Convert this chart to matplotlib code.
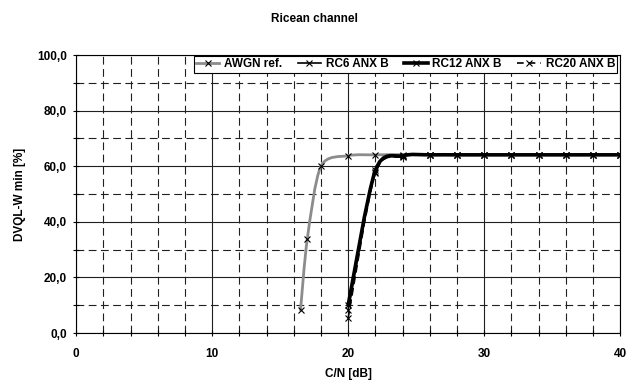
import numpy as np
import matplotlib.pyplot as plt
from matplotlib.path import Path
from matplotlib.patches import PathPatch
from matplotlib.lines import Line2D
from matplotlib.ticker import MultipleLocator, FuncFormatter

plt.rcParams['font.family'] = ['Liberation Sans', 'DejaVu Sans']
plt.rcParams['font.weight'] = 'bold'

# C/N [dB] and DVQL-W min [%] for each curve
awgn_x = [16.5, 17, 18, 20, 22, 24]
awgn_y = [8.3, 34.0, 60.0, 63.8, 64.1, 64.2]

rc_x = [20, 22, 24, 26, 28, 30, 32, 34, 36, 38, 40]
rc6_y = [8.3, 58.0, 63.6, 64.1, 64.1, 64.1, 64.1, 64.1, 64.1, 64.1, 64.1]
rc12_y = [10.0, 58.5, 63.8, 64.1, 64.1, 64.1, 64.1, 64.1, 64.1, 64.1, 64.1]
rc20_y = [5.4, 57.5, 63.5, 64.1, 64.1, 64.1, 64.1, 64.1, 64.1, 64.1, 64.1]


def smooth_path(x, y, k=1 / 7.0):
    # smoothed line: cubic Bezier through every point
    x = np.asarray(x, float)
    y = np.asarray(y, float)
    p = np.column_stack([x, y])
    n = len(p)
    verts = [p[0]]
    codes = [Path.MOVETO]
    for i in range(n - 1):
        p0 = p[i - 1] if i > 0 else p[i]
        p1 = p[i]
        p2 = p[i + 1]
        p3 = p[i + 2] if i + 2 < n else p[i + 1]
        c1 = p1 + (p2 - p0) * k
        c2 = p2 - (p3 - p1) * k
        verts += [c1, c2, p2]
        codes += [Path.CURVE4] * 3
    return Path(verts, codes)


fig = plt.figure(figsize=(6.29, 3.82), dpi=100)
ax = fig.add_axes([0.121, 0.128, 0.865, 0.728])

ax.set_xlim(0, 40)
ax.set_ylim(0, 100)
ax.xaxis.set_major_locator(MultipleLocator(10))
ax.xaxis.set_minor_locator(MultipleLocator(2))
ax.yaxis.set_major_locator(MultipleLocator(20))
ax.yaxis.set_minor_locator(MultipleLocator(10))
ax.yaxis.set_major_formatter(FuncFormatter(lambda v, pos: ('%.1f' % v).replace('.', ',')))

ax.grid(which='major', color='#202020', linewidth=0.8, linestyle='-')
ax.grid(which='minor', color='#202020', linewidth=0.8, linestyle=(0, (7, 4)))
ax.set_axisbelow(True)

ax.tick_params(which='both', direction='inout', length=5, width=0.8, labelsize=8.5, pad=4)
ax.tick_params(which='minor', length=4)
ax.tick_params(axis='x', which='major', pad=8)
for s in ax.spines.values():
    s.set_linewidth(0.8)

series = [
    ('AWGN ref.', awgn_x, awgn_y, '#8c8c8c', 2.0, '-'),
    ('RC6 ANX B', rc_x, rc6_y, 'black', 1.2, '-'),
    ('RC12 ANX B', rc_x, rc12_y, 'black', 2.6, '-'),
    ('RC20 ANX B', rc_x, rc20_y, 'black', 1.2, (0, (4, 3))),
]

handles = []
for label, x, y, col, lw, ls in series:
    patch = PathPatch(smooth_path(x, y), fill=False, edgecolor=col,
                      linewidth=lw, linestyle=ls, capstyle='round', zorder=3)
    ax.add_patch(patch)
    ax.plot(x, y, linestyle='none', marker='x', markersize=4.5,
            markeredgecolor='black', markeredgewidth=0.8, zorder=4)
    handles.append(Line2D([], [], color=col, linewidth=lw, linestyle=ls,
                          marker='x', markersize=4.5, markeredgecolor='black',
                          markeredgewidth=0.8, label=label))

leg = ax.legend(handles=handles, ncol=4, loc='upper right',
                bbox_to_anchor=(0.995, 0.997), fontsize=8.5, frameon=True,
                fancybox=False, edgecolor='black', framealpha=1,
                handlelength=2.0, handletextpad=0.4, columnspacing=1.3,
                borderpad=0.2, borderaxespad=0.0)
leg.get_frame().set_linewidth(0.8)

ax.set_xlabel('C/N [dB]', fontsize=8.5, fontweight='bold', labelpad=6)
ax.set_ylabel('DVQL-W min [%]', fontsize=8.5, fontweight='bold', labelpad=8)
fig.text(0.5, 0.95, 'Ricean channel', ha='center', va='center',
         fontsize=8.5, fontweight='bold')

fig.savefig('out.png', dpi=100)
